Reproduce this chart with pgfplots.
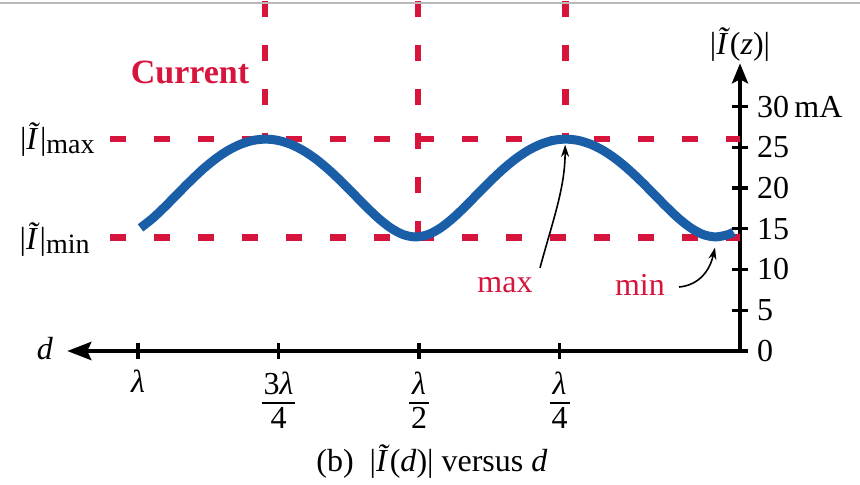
\documentclass[border=0pt]{standalone}
\usepackage{pgfplots}
\pgfplotsset{compat=1.18}
\usetikzlibrary{arrows.meta}
\usepackage{fontspec}
\setmainfont{Liberation Serif}
\definecolor{cred}{HTML}{D7143C}
\definecolor{cblue}{HTML}{1A5EA8}
\newcommand{\lam}{\textit{λ}}
\newcommand{\Itil}{\textit{Ĩ}}
\newcommand{\tfr}[2]{{\setlength{\arrayrulewidth}{1pt}\renewcommand{\arraystretch}{0.95}%
  \begin{tabular}{@{\hspace{1pt}}c@{\hspace{1pt}}}#1\\[-1pt]\hline\rule{0pt}{12pt}#2\end{tabular}}}

\begin{document}
\begin{tikzpicture}
\begin{axis}[
    x=281pt, y=4.075pt,
    x dir=reverse,
    xmin=-0.0712, xmax=1.126,
    ymin=0, ymax=35.3,
    axis x line=bottom,
    axis y line=right,
    axis line style={line width=2.2pt},
    x axis line style={-{Stealth[length=12pt,width=9pt,inset=2pt]}},
    y axis line style={-{Stealth[length=10pt,width=8pt,inset=2pt]}},
    xtick={0.25,0.5,0.75,1},
    xticklabels={{\tfr{\lam}{4}},{\tfr{\lam}{2}},{\tfr{3\lam}{4}},{\lam}},
    xticklabel style={anchor=north, yshift=-2pt},
    ytick={0,5,...,30},
    yticklabels={0,5,10,15,20,25,30\,mA},
    yticklabel style={anchor=west, xshift=1pt},
    tick align=center,
    major tick length=8pt,
    tick style={line width=1.6pt, black},
    /pgf/number format/assume math mode=true,
    font=\fontsize{16}{18}\selectfont,
    clip=false,
]
% guide lines
\draw[cred, line width=3.3pt, dash pattern=on 8pt off 14pt]
    (axis cs:1.05,26) -- (axis cs:-0.0712,26)
    (axis cs:1.05,13.9) -- (axis cs:-0.0712,13.9)
    (axis cs:0.774,43) -- (axis cs:0.774,26)
    (axis cs:0.502,43) -- (axis cs:0.502,13.9)
    (axis cs:0.239,43) -- (axis cs:0.239,26);

\addplot[cblue, line width=4.5pt, smooth, mark=none] coordinates {
(-0.0599,14.59) (-0.0502,14.29) (-0.0280,14.00) (-0.0057,14.29) (0.0165,15.11)
(0.0388,16.32) (0.0610,17.78) (0.0833,19.34) (0.1055,20.88) (0.1278,22.32)
(0.1500,23.58) (0.1723,24.61) (0.1945,25.37) (0.2168,25.84) (0.2390,26.00)
(0.2613,25.84) (0.2835,25.37) (0.3058,24.61) (0.3280,23.58) (0.3503,22.32)
(0.3725,20.88) (0.3948,19.34) (0.4170,17.78) (0.4393,16.32) (0.4615,15.11)
(0.4838,14.29) (0.5060,14.00) (0.5283,14.29) (0.5505,15.11) (0.5728,16.32)
(0.5950,17.78) (0.6173,19.34) (0.6395,20.88) (0.6618,22.32) (0.6840,23.58)
(0.7063,24.61) (0.7285,25.37) (0.7508,25.84) (0.7730,26.00) (0.7953,25.84)
(0.8175,25.37) (0.8398,24.61) (0.8620,23.58) (0.8843,22.32) (0.9065,20.88)
(0.9288,19.34) (0.9510,17.78) (0.9733,16.32) (0.9955,15.11)
};

% annotations
\node[cred, font=\fontsize{17}{18}\selectfont\bfseries] at (axis cs:0.9075,34.2) {Current};
\node[anchor=east, inner sep=0pt] at (axis cs:1.0765,25.9) {|\Itil|\raisebox{-2pt}{\fontsize{14}{14}\selectfont max}};
\node[anchor=east, inner sep=0pt] at (axis cs:1.0854,13.7) {|\Itil|\raisebox{-2pt}{\fontsize{14}{14}\selectfont min}};
\node at (axis cs:1.1655,0.3) {\textit{d}};
\node at (axis cs:-0.0712,37.6) {|\Itil(\textit{z})|};
\node[cred] at (axis cs:0.347,8.1) {max};
\node[cred] at (axis cs:0.1068,8.1) {min};
\node at (axis cs:0.477,-13.6) {(b)\ \ |\Itil(\textit{d})| versus \textit{d}};

\draw[line width=0.8pt, -{Stealth[length=6pt,width=4pt]}]
    (axis cs:0.2847,10.2) .. controls (axis cs:0.262,16) and (axis cs:0.240,20) .. (axis cs:0.240,25.3);
\draw[line width=0.8pt, -{Stealth[length=6pt,width=4pt]}]
    (axis cs:0.0374,7.85) .. controls (axis cs:0.0,8.1) and (axis cs:-0.018,10.0) .. (axis cs:-0.0267,12.7);

\draw[gray!55, line width=1.3pt] (axis cs:1.2456,42.7) -- (axis cs:-0.2847,42.7);

\coordinate (TL) at (axis cs:1.2456,43.07);
\coordinate (BR) at (axis cs:-0.2847,-16.44);
\end{axis}
\pgfresetboundingbox
\path (TL) rectangle (BR);
\end{tikzpicture}
\end{document}
